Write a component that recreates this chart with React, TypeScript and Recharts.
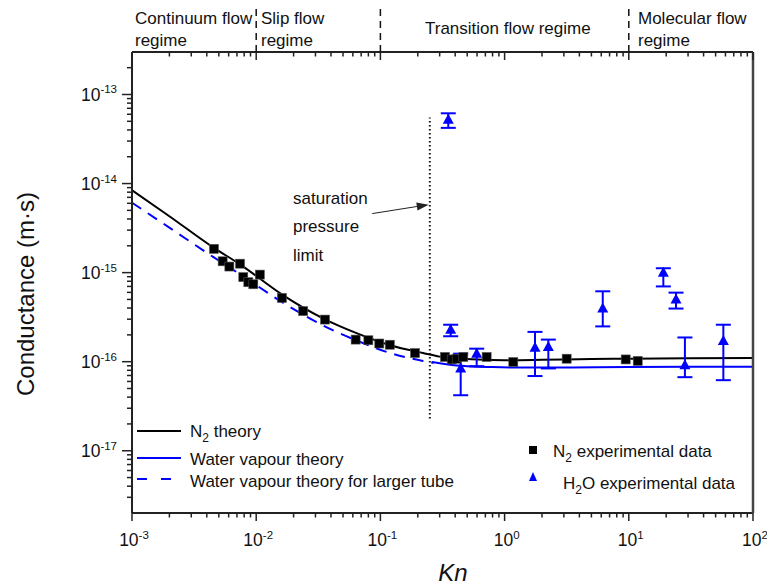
import React from 'react';
import { ComposedChart, XAxis, YAxis, Line, Scatter, ErrorBar, ReferenceLine } from 'recharts';

// Knudsen number grid for the theory curves
const knN2Theory = [0.001, 0.002, 0.0045, 0.0074, 0.0164, 0.0345, 0.065, 0.12, 0.22, 0.3, 0.45, 0.7, 1, 2, 5, 10, 30, 100];
const n2Theory = [8.4e-15, 4.3e-15, 1.92e-15, 1.24e-15, 5.6e-16, 3.07e-16, 2.08e-16, 1.53e-16, 1.25e-16, 1.14e-16, 1.08e-16, 1.05e-16, 1.04e-16, 1.05e-16, 1.07e-16, 1.08e-16, 1.09e-16, 1.1e-16];

const knWaterLarge = [0.001, 0.002, 0.0045, 0.0074, 0.0164, 0.0345, 0.065, 0.12, 0.22, 0.27];
const waterLarge = [6.1e-15, 3.2e-15, 1.5e-15, 9.6e-16, 4.6e-16, 2.55e-16, 1.72e-16, 1.25e-16, 1.02e-16, 9.7e-17];

const knWater = [0.26, 0.35, 0.5, 0.8, 1.5, 3, 10, 30, 100];
const waterTheory = [9.9e-17, 9.3e-17, 8.9e-17, 8.7e-17, 8.6e-17, 8.6e-17, 8.7e-17, 8.75e-17, 8.8e-17];

// N2 measurements
const knN2Exp = [0.00457, 0.00537, 0.00608, 0.00741, 0.00787, 0.00864, 0.00948, 0.0107, 0.0161, 0.0239, 0.0358, 0.0632, 0.08, 0.098, 0.119, 0.19,
  0.331, 0.375, 0.411, 0.465, 0.717, 1.175, 3.16, 9.44, 11.8];
const n2Exp = [1.85e-15, 1.34e-15, 1.17e-15, 1.26e-15, 8.9e-16, 7.8e-16, 7.4e-16, 9.5e-16, 5.2e-16, 3.7e-16, 2.97e-16, 1.77e-16, 1.74e-16, 1.6e-16, 1.55e-16, 1.25e-16,
  1.13e-16, 1.06e-16, 1.08e-16, 1.13e-16, 1.13e-16, 9.9e-17, 1.08e-16, 1.06e-16, 1.02e-16];

// H2O measurements with lower / upper bounds
const knH2O = [0.352, 0.368, 0.443, 0.596, 1.757, 2.25, 6.17, 18.97, 24, 28.3, 57.7];
const h2oExp = [5.19e-14, 2.29e-16, 8.4e-17, 1.23e-16, 1.43e-16, 1.46e-16, 3.95e-16, 9.98e-16, 5.0e-16, 9.1e-17, 1.71e-16];
const h2oLow = [4.22e-14, 1.93e-16, 4.2e-17, 8.9e-17, 6.9e-17, 8.4e-17, 2.49e-16, 7.0e-16, 3.95e-16, 6.7e-17, 6.2e-17];
const h2oHigh = [6.15e-14, 2.6e-16, 1.23e-16, 1.4e-16, 2.16e-16, 1.77e-16, 6.17e-16, 1.12e-15, 5.96e-16, 1.87e-16, 2.6e-16];

// axes
const xDomain = [1e-3, 100];
const yDomain = [2e-18, 3e-13];
const regimeBounds = [1e-2, 1e-1, 10];
const regimeLabels = [
  { lines: ['Continuum flow', 'regime'], x: 135 },
  { lines: ['Slip flow', 'regime'], x: 261 },
  { lines: ['Transition flow regime'], x: 425 },
  { lines: ['Molecular flow', 'regime'], x: 638 },
];

// saturation pressure limit marker
const satKn = 0.25;
const satRange = [2.3e-17, 5.5e-14];
const arrowFrom = { x: 0.086, y: 4.6e-15 };
const arrowTo = { x: 0.245, y: 5.8e-15 };

const FONT = '"Liberation Sans", Arial, sans-serif';
const BLUE = '#0000ff';

const pairs = (xs: number[], ys: number[]) => xs.map((x, i) => ({ x, y: ys[i] }));
const n2Line = pairs(knN2Theory, n2Theory);
const waterLargeLine = pairs(knWaterLarge, waterLarge);
const waterLine = pairs(knWater, waterTheory);
const n2Points = pairs(knN2Exp, n2Exp);
const h2oPoints = knH2O.map((x, i) => ({ x, y: h2oExp[i], e: [h2oExp[i] - h2oLow[i], h2oHigh[i] - h2oExp[i]] }));

function logTicks(lo: number, hi: number) {
  const out: number[] = [];
  for (let e = Math.floor(Math.log10(lo)); e <= Math.ceil(Math.log10(hi)); e++) {
    for (let m = 1; m <= 9; m++) {
      const v = m * Math.pow(10, e);
      if (v >= lo * 0.9999 && v <= hi * 1.0001) out.push(v);
    }
  }
  return out;
}
const xTicks = logTicks(xDomain[0], xDomain[1]);
const yTicks = logTicks(yDomain[0], yDomain[1]).filter((v) => v < yDomain[1] * 0.999 && v > yDomain[0] * 1.001);

const decade = (v: number) => Math.round(Math.log10(v));
const isMajor = (v: number) => Math.abs(Math.log10(v) - decade(v)) < 1e-6;
const isBound = (v: number) => regimeBounds.some((b) => Math.abs(Math.log10(b) - Math.log10(v)) < 1e-6);

const AXIS = '#222';

const Pow = ({ x, y, v, anchor }: any) => (
  <text x={x} y={y} textAnchor={anchor} fontFamily={FONT} fontSize={17.5} fill="#111">
    10<tspan dy={-7.5} fontSize={11.5}>{String(decade(v))}</tspan>
  </text>
);

const LeftTick = (props: any) => {
  const { x, y, payload } = props;
  const v = payload.value;
  const major = isMajor(v);
  return (
    <g>
      <line x1={x - (major ? 10 : 5)} x2={x} y1={y} y2={y} stroke={AXIS} strokeWidth={1.5} />
      {major && <Pow x={x - 15} y={y + 6.5} v={v} anchor="end" />}
    </g>
  );
};

const BottomTick = (props: any) => {
  const { x, y, payload } = props;
  const v = payload.value;
  const major = isMajor(v);
  return (
    <g>
      <line x1={x} x2={x} y1={y} y2={y + (major ? 8 : 4.5)} stroke={AXIS} strokeWidth={1.5} />
      {major && <Pow x={x + 2} y={y + 33} v={v} anchor="middle" />}
    </g>
  );
};

const TopTick = (props: any) => {
  const { x, y, payload } = props;
  const v = payload.value;
  const major = isMajor(v);
  return (
    <g>
      <line x1={x} x2={x} y1={y} y2={y + (major ? 8 : 4.5)} stroke={AXIS} strokeWidth={1.5} />
      {isBound(v) && <line x1={x} x2={x} y1={y} y2={y - 46} stroke="#111" strokeWidth={1.5} strokeDasharray="7 5" />}
    </g>
  );
};

const Square = (p: any) => (
  <rect x={p.cx - 4.5} y={p.cy - 4.5} width={9} height={9} fill="#000" stroke="#555" strokeWidth={0.6} />
);

const Triangle = (p: any) => (
  <path d={`M${p.cx},${p.cy - 6}L${p.cx + 5.5},${p.cy + 4}L${p.cx - 5.5},${p.cy + 4}Z`} fill={BLUE} />
);

const Arrow = (p: any) => {
  const { x1, y1, x2, y2 } = p;
  const a = Math.atan2(y2 - y1, x2 - x1);
  const L = 12, W = 4;
  const bx = x2 - L * Math.cos(a), by = y2 - L * Math.sin(a);
  const nx = -Math.sin(a) * W, ny = Math.cos(a) * W;
  return (
    <g>
      <line x1={x1} y1={y1} x2={bx} y2={by} stroke="#222" strokeWidth={1} />
      <path d={`M${x2},${y2}L${bx + nx},${by + ny}L${bx - nx},${by - ny}Z`} fill="#222" />
    </g>
  );
};

const txt = { fontFamily: FONT, fontSize: 17, fill: '#111' } as const;

export default function App() {
  return (
    <div style={{ position: 'absolute', left: 0, top: 0, width: 767, height: 588, background: '#fff' }}>
      <ComposedChart width={767} height={588} margin={{ top: 32, right: 4, bottom: 45, left: 72 }}>
        <XAxis xAxisId={0} dataKey="x" type="number" scale="log" domain={xDomain} allowDataOverflow ticks={xTicks}
          interval={0} height={30} tickSize={0} tickMargin={0} tickLine={false} tick={BottomTick}
          axisLine={{ stroke: AXIS, strokeWidth: 2 }} />
        <XAxis xAxisId="t" orientation="top" dataKey="x" type="number" scale="log" domain={xDomain} allowDataOverflow ticks={xTicks}
          interval={0} height={20} tickSize={0} tickMargin={0} tickLine={false} tick={TopTick}
          axisLine={{ stroke: AXIS, strokeWidth: 2 }} />
        <YAxis yAxisId={0} dataKey="y" type="number" scale="log" domain={yDomain} allowDataOverflow ticks={yTicks}
          interval={0} width={60} tickSize={0} tickMargin={0} tickLine={false} tick={LeftTick}
          axisLine={{ stroke: AXIS, strokeWidth: 2 }} />
        <YAxis yAxisId="r" orientation="right" type="number" scale="log" domain={yDomain} allowDataOverflow
          width={10} tick={false} tickLine={false} axisLine={{ stroke: '#444', strokeWidth: 2.5 }} />

        <Line data={waterLargeLine} dataKey="y" type="monotone" stroke={BLUE} strokeWidth={2} strokeDasharray="11 8"
          dot={false} isAnimationActive={false} />
        <Line data={waterLine} dataKey="y" type="monotone" stroke={BLUE} strokeWidth={2}
          dot={false} isAnimationActive={false} />
        <Line data={n2Line} dataKey="y" type="monotone" stroke="#000" strokeWidth={2}
          dot={false} isAnimationActive={false} />

        <ReferenceLine segment={[{ x: satKn, y: satRange[0] }, { x: satKn, y: satRange[1] }]}
          stroke="#111" strokeWidth={2} strokeDasharray="1.6 2.4" ifOverflow="visible" />
        <ReferenceLine segment={[arrowFrom, arrowTo]} shape={Arrow} ifOverflow="visible" />

        <Scatter data={n2Points} shape={Square} isAnimationActive={false} />
        <Scatter data={h2oPoints} shape={Triangle} isAnimationActive={false}>
          <ErrorBar dataKey="e" direction="y" width={7.5} stroke={BLUE} strokeWidth={2} />
        </Scatter>
      </ComposedChart>

      <svg width={767} height={588} style={{ position: 'absolute', left: 0, top: 0, pointerEvents: 'none' }}>
        {regimeLabels.map((r, i) =>
          r.lines.length === 1 ? (
            <text key={i} x={r.x} y={34} {...txt}>{r.lines[0]}</text>
          ) : (
            <g key={i}>
              <text x={r.x} y={24} {...txt}>{r.lines[0]}</text>
              <text x={r.x} y={46} {...txt}>{r.lines[1]}</text>
            </g>
          )
        )}

        <text x={293} y={204} {...txt}>saturation</text>
        <text x={293} y={232} {...txt}>pressure</text>
        <text x={293} y={261} {...txt}>limit</text>

        <text transform="translate(34,294) rotate(-90)" textAnchor="middle" fontFamily={FONT} fontSize={24} fill="#111">
          Conductance (m·s)
        </text>
        <text x={453} y={581} textAnchor="middle" fontFamily={FONT} fontSize={24} fontStyle="italic" fill="#111">Kn</text>

        {/* line legend */}
        <line x1={137} x2={181} y1={431} y2={431} stroke="#000" strokeWidth={2} />
        <text x={190} y={437} {...txt}>N<tspan dy={5} fontSize={12}>2</tspan><tspan dy={-5}> theory</tspan></text>
        <line x1={137} x2={181} y1={458} y2={458} stroke={BLUE} strokeWidth={2} />
        <text x={190} y={465} {...txt}>Water vapour theory</text>
        <line x1={137} x2={174} y1={479} y2={479} stroke={BLUE} strokeWidth={2} strokeDasharray="10 14" />
        <text x={190} y={487} {...txt}>Water vapour theory for larger tube</text>

        {/* symbol legend */}
        <rect x={529} y={446} width={8} height={8} fill="#000" />
        <text x={553} y={457} {...txt}>N<tspan dy={5} fontSize={12}>2</tspan><tspan dy={-5}> experimental data</tspan></text>
        <path d="M533,472L537,481L529,481Z" fill={BLUE} />
        <text x={563} y={489} {...txt}>H<tspan dy={5} fontSize={12}>2</tspan><tspan dy={-5}>O experimental data</tspan></text>
      </svg>
    </div>
  );
}
